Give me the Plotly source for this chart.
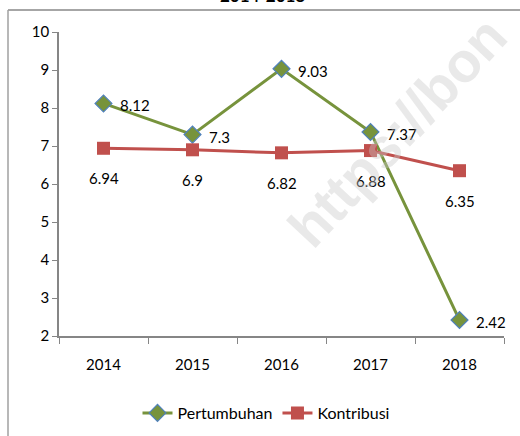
import plotly.graph_objects as go

years = ["2014", "2015", "2016", "2017", "2018"]
pertumbuhan = [8.12, 7.3, 9.03, 7.37, 2.42]
kontribusi = [6.94, 6.9, 6.82, 6.88, 6.35]
title_text = "2014-2018"

FONT = "Lato"
FS = 15
L, R, T, B = 59, 16, 32, 100
PW, PH = 520 - L - R, 436 - T - B

def px(x):
    return (x - L) / PW

def py(y):
    return (436 - B - y) / PH

fig = go.Figure()
fig.add_trace(go.Scatter(
    x=years, y=pertumbuhan, name="Pertumbuhan", mode="lines+markers",
    line=dict(color="#77933C", width=3),
    marker=dict(symbol="diamond", size=13, color="#77933C", line=dict(color="#4F81BD", width=1.2)),
))
fig.add_trace(go.Scatter(
    x=years, y=kontribusi, name="Kontribusi", mode="lines+markers",
    line=dict(color="#C0504D", width=3),
    marker=dict(symbol="square", size=13, color="#C0504D"),
))
for i, yv in enumerate(pertumbuhan):
    fig.add_annotation(x=i, y=yv, text=f"{yv:g}", showarrow=False, xanchor="left",
                       xshift=14, yshift=-2, font=dict(family=FONT, size=FS, color="#000000"))
for i, yv in enumerate(kontribusi):
    fig.add_annotation(x=i, y=yv, text=f"{yv:g}", showarrow=False, yshift=-30,
                       font=dict(family=FONT, size=FS, color="#000000"))

fig.add_annotation(xref="paper", yref="paper", x=px(262), y=py(-5),
                   text=f"<b>{title_text}</b>", showarrow=False,
                   font=dict(family=FONT, size=17, color="#000"), yanchor="middle")
fig.add_annotation(xref="paper", yref="paper", x=px(522), y=py(2),
                   text="<b>https://bon</b>", showarrow=False, textangle=-47,
                   font=dict(family="Liberation Sans", size=56, color="rgba(200,200,200,0.4)"))

fig.add_shape(type="rect", xref="paper", yref="paper",
              x0=px(8), x1=px(521), y0=py(9), y1=py(11),
              line=dict(width=0), fillcolor="#A6A6A6", layer="above")
fig.add_shape(type="line", xref="paper", yref="paper",
              x0=px(8), x1=px(8), y0=py(10), y1=py(440),
              line=dict(color="#A0A0A0", width=1.5), layer="above")

fig.update_layout(
    width=520, height=436,
    margin=dict(l=L, r=R, t=T, b=B),
    paper_bgcolor="white", plot_bgcolor="rgba(0,0,0,0)",
    font=dict(family=FONT, size=FS, color="#000"),
    showlegend=True,
    legend=dict(orientation="h", x=266 / 520, xref="container", xanchor="center",
                y=(436 - 413) / 436, yref="container", yanchor="middle",
                font=dict(family=FONT, size=16)),
    xaxis=dict(type="category", range=[-0.5, 4.5], showline=True, linecolor="#868686", linewidth=1.5,
               ticks="outside", tickson="boundaries", ticklen=6, tickcolor="#868686", automargin=False,
               showgrid=False, tickfont=dict(family=FONT, size=FS), ticklabelstandoff=14),
    yaxis=dict(range=[2, 10], dtick=1, showline=True, linecolor="#868686", linewidth=1.5,
               ticks="outside", ticklen=5, tickcolor="#868686", showgrid=False, zeroline=False,
               automargin=False, tickfont=dict(family=FONT, size=FS)),
)
fig.write_html("out.html", config={"displayModeBar": False},
               post_script="document.body.style.margin='0';")
